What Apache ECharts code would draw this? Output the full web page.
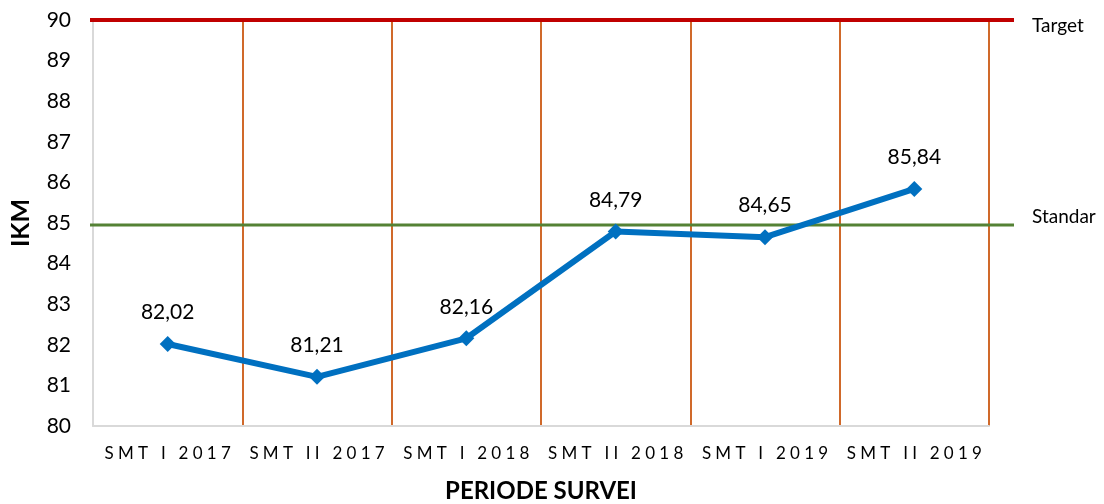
<!DOCTYPE html>
<html>
<head>
<meta charset="utf-8">
<script src="https://cdn.jsdelivr.net/npm/echarts@6/dist/echarts.min.js"></script>
<style>
  html, body { margin: 0; padding: 0; background: #fff; }
  #chart { width: 1104px; height: 504px; }
</style>
</head>
<body>
<div id="chart"></div>
<script>
// data
const categories = ['SMT I 2017', 'SMT II 2017', 'SMT I 2018', 'SMT II 2018', 'SMT I 2019', 'SMT II 2019'];
const ikmValues = [82.02, 81.21, 82.16, 84.79, 84.65, 85.84];
const targetValue = 90;
const standarValue = 84.95;
const yTicks = [80, 81, 82, 83, 84, 85, 86, 87, 88, 89, 90];

const font = 'Lato, "Open Sans", sans-serif';

// stretch the category text like the original's wide letter spacing
function spread(s) {
  return s.split('').join('\u2005');
}

const option = {
  backgroundColor: '#fff',
  animation: false,
  textStyle: { fontFamily: font },
  grid: [
    { left: 93, right: 115, top: 20, bottom: 78, outerBoundsMode: 'none' },
    // wider band so the reference lines run past the plot
    { left: 90, right: 90, top: 20, bottom: 78, outerBoundsMode: 'none' },
  ],
  xAxis: [
    {
      type: 'category',
      gridIndex: 0,
      data: categories,
      boundaryGap: true,
      name: 'PERIODE SURVEI',
      nameLocation: 'middle',
      nameGap: 53,
      nameTextStyle: { fontSize: 24, fontWeight: 'bold', color: '#000', fontFamily: font },
      axisLine: { lineStyle: { color: '#d9d9d9', width: 2 } },
      axisTick: { show: false },
      axisLabel: {
        interval: 0,
        margin: 19,
        fontSize: 17,
        color: '#000',
        formatter: spread,
      },
      splitLine: { show: true, interval: 0, lineStyle: { color: '#d0692a', width: 2 } },
    },
    {
      type: 'value',
      gridIndex: 1,
      min: 0,
      max: 1,
      show: false,
    },
  ],
  yAxis: [
    {
      type: 'value',
      gridIndex: 0,
      min: yTicks[0],
      max: yTicks[yTicks.length - 1],
      interval: 1,
      name: 'IKM',
      nameLocation: 'middle',
      nameGap: 60,
      nameTextStyle: { fontSize: 25, fontWeight: 'bold', color: '#000', fontFamily: font },
      axisLine: { show: true, lineStyle: { color: '#d9d9d9', width: 2 } },
      axisTick: { show: false },
      axisLabel: { fontSize: 21, color: '#000', margin: 22 },
      splitLine: { show: false },
    },
    {
      type: 'value',
      gridIndex: 1,
      min: yTicks[0],
      max: yTicks[yTicks.length - 1],
      show: false,
    },
  ],
  series: [
    {
      name: 'Target',
      type: 'line',
      xAxisIndex: 1,
      yAxisIndex: 1,
      data: [[0, targetValue], [1, targetValue]],
      symbol: 'none',
      lineStyle: { color: '#c00000', width: 4 },
      z: 3,
      endLabel: {
        show: true,
        formatter: 'Target',
        fontSize: 19,
        color: '#000',
        distance: 18,
        offset: [0, 6],
      },
    },
    {
      name: 'Standar',
      type: 'line',
      xAxisIndex: 1,
      yAxisIndex: 1,
      data: [[0, standarValue], [1, standarValue]],
      symbol: 'none',
      lineStyle: { color: '#548235', width: 3 },
      z: 3,
      endLabel: {
        show: true,
        formatter: 'Standar',
        fontSize: 19,
        color: '#000',
        distance: 18,
        offset: [0, -8],
      },
    },
    {
      name: 'IKM',
      type: 'line',
      xAxisIndex: 0,
      yAxisIndex: 0,
      data: ikmValues,
      symbol: 'diamond',
      symbolSize: 16,
      lineStyle: { color: '#0070c0', width: 6 },
      itemStyle: { color: '#0070c0' },
      z: 5,
      label: {
        show: true,
        position: 'top',
        distance: 13,
        fontSize: 21,
        color: '#000',
        formatter: (p) => p.value.toFixed(2).replace('.', ','),
      },
    },
  ],
};

const myChart = echarts.init(document.getElementById('chart'));
myChart.setOption(option);
window.addEventListener('resize', () => {
  myChart.resize();
});
</script>
</body>
</html>
